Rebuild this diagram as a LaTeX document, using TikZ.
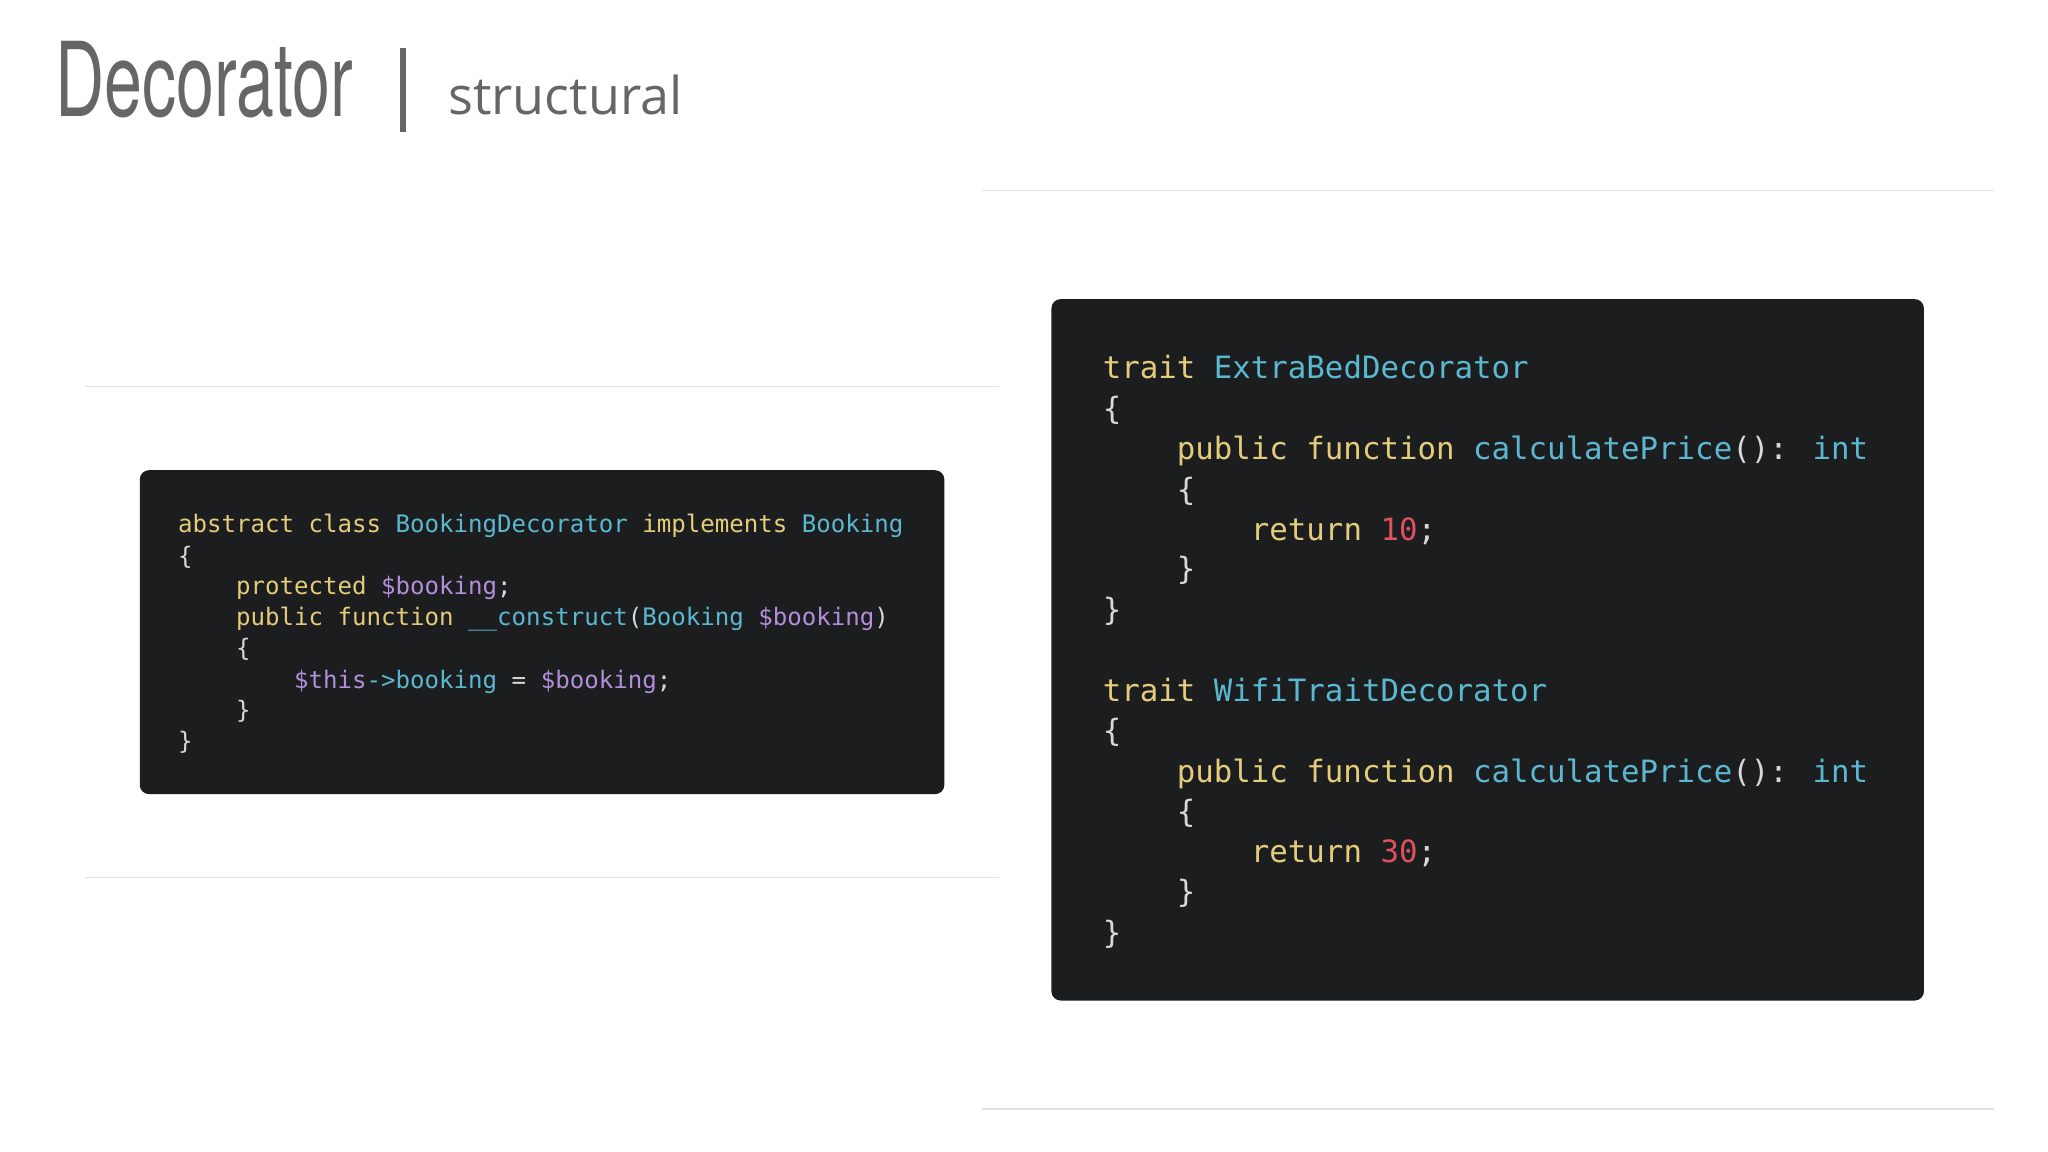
\documentclass[tikz,border=0pt]{standalone}
\usepackage{fontspec}
\setmainfont{Open Sans}
\newfontfamily\titlefont{TeX Gyre Heros}
\newfontfamily\codefont{DejaVu Sans Mono}
\usepackage{graphicx}
\definecolor{kw}{HTML}{E5CC7A}
\definecolor{cy}{HTML}{5BB8D0}
\definecolor{pu}{HTML}{B48EDB}
\definecolor{rd}{HTML}{E0505E}
\definecolor{tx}{HTML}{D8D8D8}
\definecolor{bg}{HTML}{1C1D1F}
\definecolor{ln}{HTML}{E2E2E2}
\newcommand{\K}[1]{\textcolor{kw}{#1}}
\newcommand{\C}[1]{\textcolor{cy}{#1}}
\newcommand{\Pu}[1]{\textcolor{pu}{#1}}
\newcommand{\R}[1]{\textcolor{rd}{#1}}
\tikzset{
  codebox/.style={fill=bg, rounded corners=4pt},
  sep/.style={draw=ln, line width=0.6pt},
  codel/.style={anchor=base west, inner sep=0, text=tx, font=\codefont\fontsize{10.5pt}{12pt}\selectfont},
  coder/.style={anchor=base west, inner sep=0, text=tx, font=\codefont\fontsize{13.4pt}{16pt}\selectfont},
}
\begin{document}
\begin{tikzpicture}[x=0.02cm,y=-0.02cm]
\useasboundingbox (0,0) rectangle (1568,882);
% title
\node[anchor=base west, inner sep=0, text=black!60, font=\titlefont\fontsize{45pt}{50pt}\selectfont] (title) at (42,89) {\scalebox{0.66}[1]{Decorator}};
\fill[black!60] (306,37) rectangle (311,101);
\node[anchor=base west, inner sep=0, text=black!60, font=\fontsize{22.7pt}{26pt}\selectfont] (sub) at (343,88) {structural};
% separators
\draw[sep] (65,296) -- (765,296);
\draw[sep] (65,672) -- (765,672);
\draw[sep] (752,146) -- (1527,146);
\draw[sep] (752,849) -- (1527,849);
% boxes
\fill[codebox] (107,360) rectangle (723,608);
\fill[codebox] (805,229) rectangle (1473,766);
% left code
\def\s{\phantom{x}}
\node[codel] (l1) at (136,408) {\K{abstract class} \C{BookingDecorator} \K{implements} \C{Booking}};
\node[codel] (l2) at (136,432) {\{};
\node[codel] (l3) at (136,455) {\s\s\s\s\K{protected} \Pu{\$booking};};
\node[codel] (l4) at (136,479) {\s\s\s\s\K{public function} \C{\_\_construct}(\C{Booking} \Pu{\$booking})};
\node[codel] (l5) at (136,503) {\s\s\s\s\{};
\node[codel] (l6) at (136,527) {\s\s\s\s\s\s\s\s\Pu{\$this}\C{->booking} = \Pu{\$booking};};
\node[codel] (l7) at (136,550) {\s\s\s\s\}};
\node[codel] (l8) at (136,574) {\}};
% right code
\node[coder] (r1) at (844,290) {\K{trait} \C{ExtraBedDecorator}};
\node[coder] (r2) at (844,321) {\{};
\node[coder] (r3) at (844,352) {\s\s\s\s\K{public function} \C{calculatePrice}(): \C{int}};
\node[coder] (r4) at (844,383) {\s\s\s\s\{};
\node[coder] (r5) at (844,414) {\s\s\s\s\s\s\s\s\K{return} \R{10};};
\node[coder] (r6) at (844,444) {\s\s\s\s\}};
\node[coder] (r7) at (844,475) {\}};
\node[coder] (r8) at (844,537) {\K{trait} \C{WifiTraitDecorator}};
\node[coder] (r9) at (844,568) {\{};
\node[coder] (r10) at (844,599) {\s\s\s\s\K{public function} \C{calculatePrice}(): \C{int}};
\node[coder] (r11) at (844,630) {\s\s\s\s\{};
\node[coder] (r12) at (844,660) {\s\s\s\s\s\s\s\s\K{return} \R{30};};
\node[coder] (r13) at (844,691) {\s\s\s\s\}};
\node[coder] (r14) at (844,722) {\}};
\end{tikzpicture}
\end{document}
